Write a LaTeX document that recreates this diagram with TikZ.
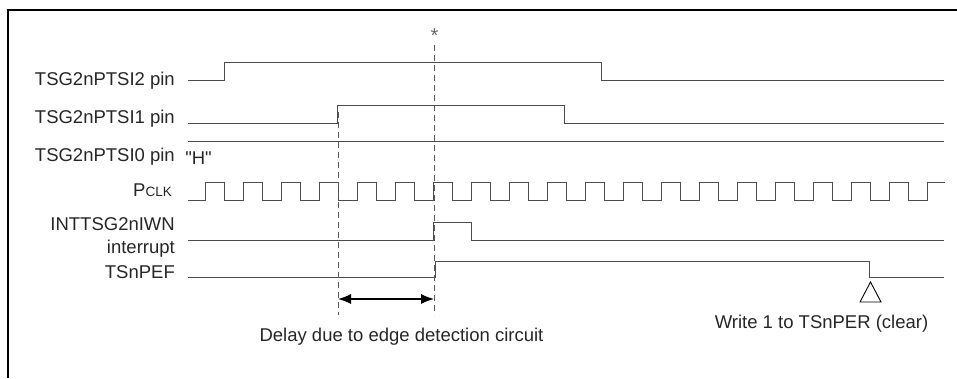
\documentclass[tikz,border=0pt]{standalone}
\usepackage{fontspec}
\setmainfont{Liberation Sans}
\usepackage{tikz}
\usetikzlibrary{arrows.meta,positioning,calc}

\tikzset{
  sig/.style={draw=black!70, line width=1pt},
  lbl/.style={anchor=base east, inner sep=0pt, text=black!85, font=\fontsize{18.5}{22}\selectfont},
  note/.style={anchor=base, inner sep=0pt, text=black!85, font=\fontsize{18.5}{22}\selectfont},
  guide/.style={draw=black!65, line width=1pt, dash pattern=on 6pt off 4pt}
}

\begin{document}
\begin{tikzpicture}[x=1pt,y=-1pt]
    \useasboundingbox (0,0) rectangle (957,378);

    % frame
    \draw[line width=2pt] (957,10) -- (8,10) -- (8,378);

    % signal names
    \node[lbl] (nTwo) at (175,85) {TSG2nPTSI2 pin};
    \node[lbl] (nOne) at (175,123) {TSG2nPTSI1 pin};
    \node[lbl] (nZero) at (175,161) {TSG2nPTSI0 pin};
    \node[lbl] (nClk) at (172,196) {P{\fontsize{13.5}{16}\selectfont CLK}};
    \node[lbl] (nInt) at (175,230) {INTTSG2nIWN};
    \node[lbl] (nIntB) at (175,253) {interrupt};
    \node[lbl] (nPef) at (175,278) {TSnPEF};

    % TSG2nPTSI2
    \draw[sig] (188,80) -- (224,80) -- (224,62) -- (601,62) -- (601,80) -- (944,80);
    % TSG2nPTSI1
    \draw[sig] (188,123) -- (337,123) -- (337,105) -- (564,105) -- (564,123) -- (944,123);
    % TSG2nPTSI0
    \draw[sig] (188,141) -- (944,141);
    \node[note] (hLevel) at (198.5,164) {\addfontfeature{Ligatures=TeXOff}"H"};

    % PCLK
    \draw[sig] (188,200)
      \foreach \k in {0,...,18} { -- ({205+38*\k},200) -- ({205+38*\k},182) -- ({224+38*\k},182) -- ({224+38*\k},200) }
      -- (927,200) -- (927,182) -- (945,182);

    % INTTSG2nIWN interrupt
    \draw[sig] (188,240.5) -- (433,240.5) -- (433,222) -- (471,222) -- (471,240.5) -- (944,240.5);
    % TSnPEF
    \draw[sig] (188,277.5) -- (435,277.5) -- (435,261) -- (869,261) -- (869,277.5) -- (944,277.5);

    % timing guides
    \coordinate (gOneTop) at (338,112);
    \coordinate (gOneBot) at (338,315);
    \coordinate (gTwoTop) at (434,45);
    \coordinate (gTwoBot) at (434,315);
    \draw[guide] (gOneTop) -- (gOneBot);
    \draw[guide] (gTwoTop) -- (gTwoBot);
    \node[text=black!60, font=\fontsize{20}{22}\selectfont, inner sep=0pt] (star) at (434.5,36) {*};

    % delay arrow
    \coordinate (dL) at (338,299);
    \coordinate (dR) at (434,299);
    \draw[line width=1.2pt, {Latex[length=13pt,width=10pt]}-{Latex[length=13pt,width=10pt]}] (dL) -- (dR);
    \node[note] (delay) at (401.5,341) {Delay due to edge detection circuit};

    % clear marker
    \draw[line width=0.9pt] (870.5,282) -- (881,302) -- (860,302) -- cycle;
    \node[note] (clr) at (821.5,328) {Write 1 to TSnPER (clear)};
\end{tikzpicture}
\end{document}
